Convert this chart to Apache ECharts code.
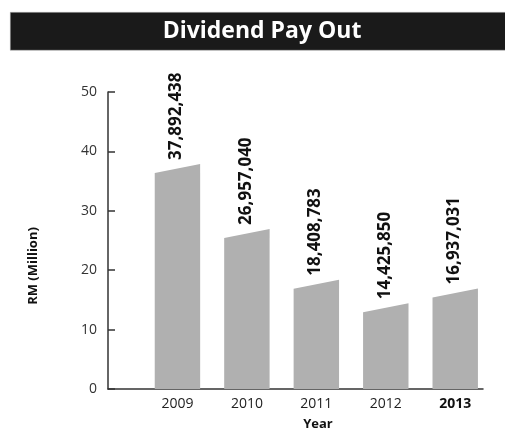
<!DOCTYPE html>
<html>
<head>
<meta charset="utf-8">
<script src="https://cdn.jsdelivr.net/npm/echarts@6/dist/echarts.min.js"></script>
<style>
html,body{margin:0;padding:0;background:#fff;}
#chart{width:505px;height:430px;}
</style>
</head>
<body>
<div id="chart"></div>
<script>
var years = ['2009', '2010', '2011', '2012', '2013'];
var dividends = [37892438, 26957040, 18408783, 14425850, 16937031];
var yTicks = [0, 10, 20, 30, 40, 50];

var FONT = '"Open Sans", "Noto Sans", sans-serif';
var chart = echarts.init(document.getElementById('chart'), null, {renderer: 'canvas'});

var data = years.map(function (y, i) { return [i + 1, dividends[i] / 1e6, dividends[i]]; });

var option = {
  animation: false,
  backgroundColor: '#ffffff',
  graphic: [
    {type: 'rect', left: 10, top: 12, shape: {width: 496, height: 38}, style: {fill: '#1a1a1a', stroke: '#bbbbbb', lineWidth: 0.5}},
    {type: 'text', x: 262, y: 31, style: {text: 'Dividend Pay Out', fill: '#ffffff', font: 'bold 23px ' + FONT, textAlign: 'center', textVerticalAlign: 'middle'}},
    {type: 'text', x: 33, y: 266, rotation: Math.PI / 2, style: {text: 'RM (Million)', fill: '#111111', font: 'bold 13px ' + FONT, textAlign: 'center', textVerticalAlign: 'middle'}},
    {type: 'text', x: 318, y: 424, style: {text: 'Year', fill: '#111111', font: 'bold 13px ' + FONT, textAlign: 'center', textVerticalAlign: 'middle'}}
  ],
  grid: {left: 108, right: 22, top: 92, bottom: 41, containLabel: false},
  xAxis: {
    type: 'value', min: 0, max: 5.4, interval: 1,
    axisLine: {show: true, lineStyle: {color: '#333333', width: 1.5}},
    axisTick: {show: false},
    splitLine: {show: false},
    axisLabel: {
      margin: 8,
      fontFamily: FONT, fontSize: 14, color: '#222222',
      formatter: function (v) {
        var idx = Math.round(v) - 1;
        if (Math.abs(v - Math.round(v)) > 1e-6 || idx < 0 || idx >= years.length) return '';
        return idx === years.length - 1 ? '{b|' + years[idx] + '}' : years[idx];
      },
      rich: {b: {fontWeight: 'bold', fontFamily: FONT, fontSize: 14, color: '#111111'}}
    }
  },
  yAxis: {
    type: 'value', min: yTicks[0], max: yTicks[yTicks.length - 1], interval: 10,
    axisLine: {show: true, lineStyle: {color: '#333333', width: 1.5}},
    axisTick: {show: true, inside: true, length: 7, lineStyle: {color: '#333333', width: 1.5}},
    splitLine: {show: false},
    axisLabel: {margin: 11, fontFamily: FONT, fontSize: 14, color: '#333333'}
  },
  series: [{
    type: 'custom',
    data: data,
    renderItem: function (params, api) {
      var cx = api.value(0), v = api.value(1), raw = api.value(2);
      var top = api.coord([cx, v]);
      var base = api.coord([cx, 0]);
      var hw = api.size([1, 0])[0] * 0.327;
      var slant = 9;
      return {
        type: 'group',
        children: [
          {
            type: 'polygon',
            shape: {points: [
              [top[0] - hw, base[1]],
              [top[0] - hw, top[1] + slant],
              [top[0] + hw, top[1]],
              [top[0] + hw, base[1]]
            ]},
            style: {fill: '#b0b0b0'}
          },
          {
            type: 'text',
            x: top[0] - 1, y: top[1] - 4,
            rotation: Math.PI / 2,
            style: {
              text: Number(raw).toLocaleString('en-US'),
              fill: '#111111',
              font: 'bold 17px ' + FONT,
              textAlign: 'left',
              textVerticalAlign: 'middle'
            }
          }
        ]
      };
    }
  }]
};
chart.setOption(option);
</script>
</body>
</html>
